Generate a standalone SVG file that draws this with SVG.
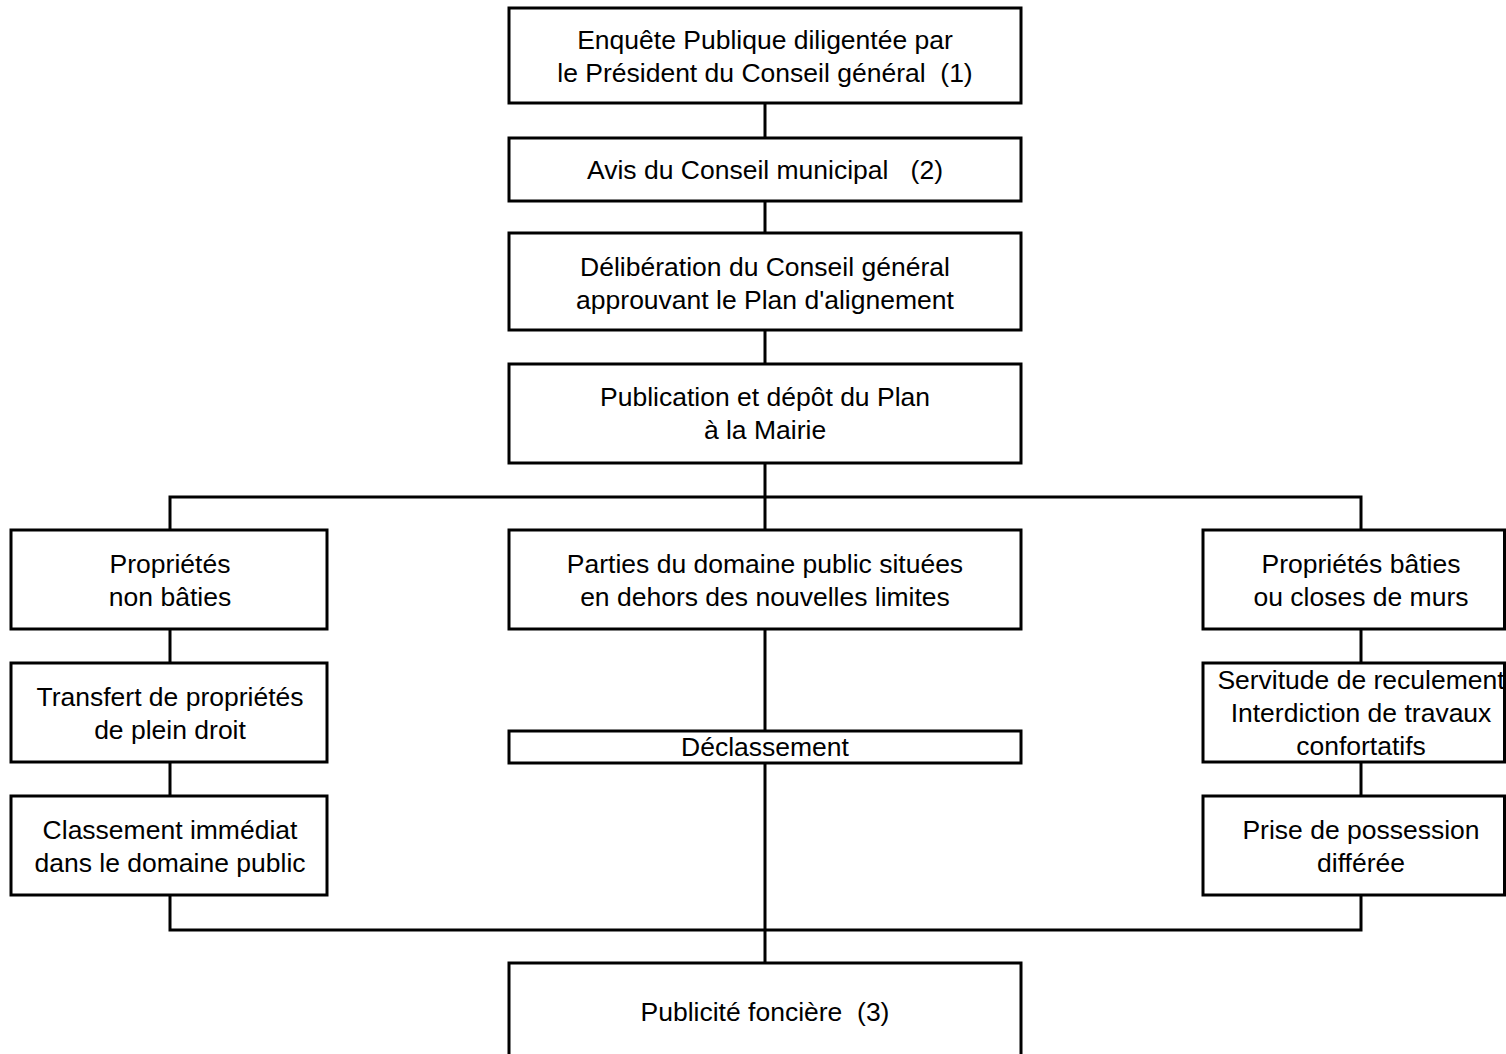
<svg xmlns="http://www.w3.org/2000/svg" width="1506" height="1054" viewBox="0 0 1506 1054">
<style>
.box{fill:#fff;stroke:#000;stroke-width:3}
.ln{fill:none;stroke:#000;stroke-width:3}
text{font-family:"Liberation Sans",Arial,sans-serif;font-size:26.5px;fill:#000;text-anchor:middle}
</style>
<rect width="1506" height="1054" fill="#fff"/>
<g id="connectors">
<path class="ln" d="M765 103V138M765 201V233M765 330V364M765 463V530M170 530V497H1361V530M170 629V663M170 762V796M1361 629V663M1361 762V796M765 629V731M765 763V963M170 895V930H1361V895"/>
</g>
<g id="n1"><rect class="box" x="509" y="8" width="512" height="95"/><text x="765" y="49">Enquête Publique diligentée par</text><text x="765" y="82" xml:space="preserve">le Président du Conseil général  (1)</text></g>
<g id="n2"><rect class="box" x="509" y="138" width="512" height="63"/><text x="765" y="179" xml:space="preserve">Avis du Conseil municipal   (2)</text></g>
<g id="n3"><rect class="box" x="509" y="233" width="512" height="97"/><text x="765" y="276">Délibération du Conseil général</text><text x="765" y="309">approuvant le Plan d'alignement</text></g>
<g id="n4"><rect class="box" x="509" y="364" width="512" height="99"/><text x="765" y="406">Publication et dépôt du Plan</text><text x="765" y="439">à la Mairie</text></g>
<g id="n5"><rect class="box" x="11" y="530" width="316" height="99"/><text x="170" y="573">Propriétés</text><text x="170" y="606">non bâties</text></g>
<g id="n6"><rect class="box" x="509" y="530" width="512" height="99"/><text x="765" y="573">Parties du domaine public situées</text><text x="765" y="606">en dehors des nouvelles limites</text></g>
<g id="n7"><rect class="box" x="1203" y="530" width="301.5" height="99"/><text x="1361" y="573">Propriétés bâties</text><text x="1361" y="606">ou closes de murs</text></g>
<g id="n8"><rect class="box" x="11" y="663" width="316" height="99"/><text x="170" y="706">Transfert de propriétés</text><text x="170" y="739">de plein droit</text></g>
<g id="n9"><rect class="box" x="509" y="731" width="512" height="32"/><text x="765" y="756">Déclassement</text></g>
<g id="n10"><rect class="box" x="1203" y="663" width="301.5" height="99"/><text x="1361" y="689">Servitude de reculement</text><text x="1361" y="722">Interdiction de travaux</text><text x="1361" y="755">confortatifs</text></g>
<g id="n11"><rect class="box" x="11" y="796" width="316" height="99"/><text x="170" y="839">Classement immédiat</text><text x="170" y="872">dans le domaine public</text></g>
<g id="n12"><rect class="box" x="1203" y="796" width="301.5" height="99"/><text x="1361" y="839">Prise de possession</text><text x="1361" y="872">différée</text></g>
<g id="n13"><rect class="box" x="509" y="963" width="512" height="110"/><text x="765" y="1021" xml:space="preserve">Publicité foncière  (3)</text></g>
</svg>
